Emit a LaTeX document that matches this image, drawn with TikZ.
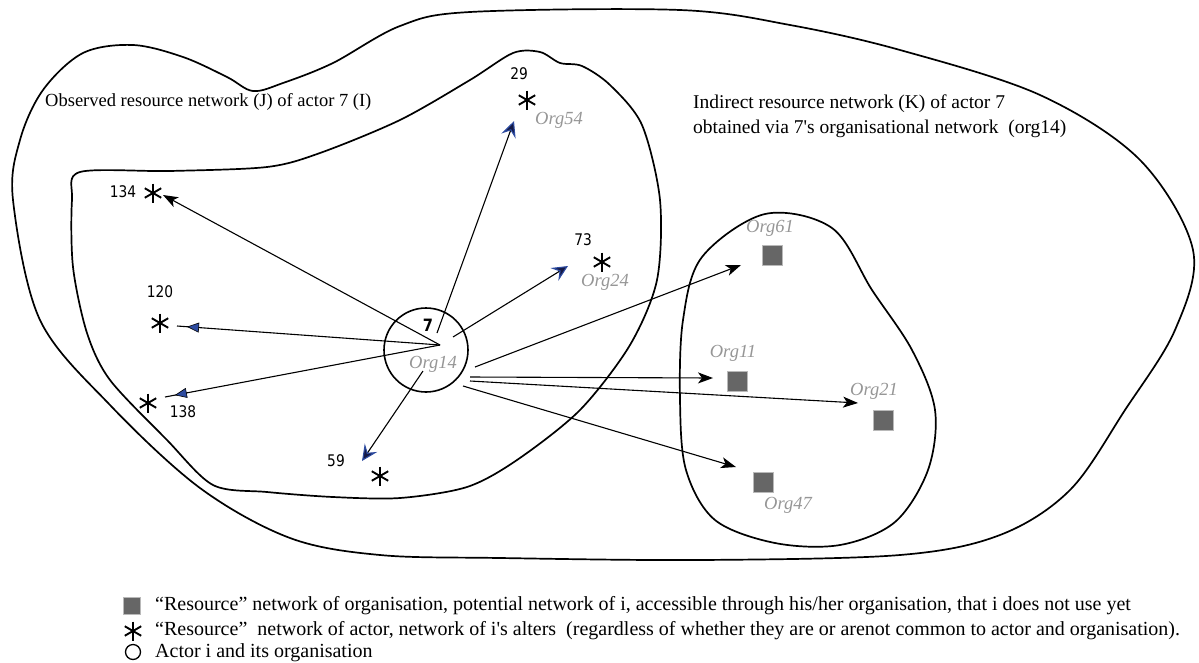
\documentclass[tikz,border=0pt]{standalone}
\usepackage{fontspec}
\setmainfont{Liberation Serif}
\newfontfamily\numfont[FakeStretch=0.86]{DejaVu Sans}
\usetikzlibrary{arrows.meta,decorations.markings}
\definecolor{orgfill}{RGB}{102,102,102}
\definecolor{orgedge}{RGB}{185,185,185}
\definecolor{orgtext}{RGB}{150,150,150}
\definecolor{tipblue}{RGB}{45,75,160}
\definecolor{tipnavy}{RGB}{20,25,70}

\begin{document}
\begin{tikzpicture}[
    x=1pt, y=-1pt,
    blob/.style={line width=1.7pt, line join=round},
    link/.style={line width=1.1pt, -{Stealth[length=15pt, width=11pt, inset=4pt]}},
    linktri/.style={line width=1.1pt, postaction={decorate, decoration={markings,
        mark=at position -10pt with {\arrow{Triangle[length=12pt, width=10pt, fill=tipblue, line width=0.6pt]}}}}},
    linknavy/.style={line width=1.1pt, -{Stealth[length=16pt, width=15pt, inset=6pt, color=tipblue, fill=tipnavy]}},
    alter/.style={circle, minimum size=21pt, inner sep=0pt, path picture={
        \foreach \a in {90,30,150}
            \draw[line width=1.9pt] (path picture bounding box.center) ++(\a:9.5pt) -- ++(\a+180:19pt);}},
    orgbox/.style={rectangle, fill=orgfill, draw=orgedge, line width=0.6pt, minimum size=20pt, inner sep=0pt},
    orglabel/.style={text=orgtext, font=\itshape\fontsize{18.5}{20}\selectfont, inner sep=0pt},
    numlabel/.style={font=\numfont\fontsize{16}{18}\selectfont, inner sep=0pt},
    note/.style={font=\fontsize{18.5}{21}\selectfont, anchor=west, inner sep=0pt},
    keytext/.style={font=\fontsize{20}{22}\selectfont, anchor=west, inner sep=0pt}
]

% Frame
\useasboundingbox (0,0) rectangle (1199,662);

% 1. BLOBS
% Outer network
\draw[blob] plot[smooth cycle, tension=0.55] coordinates {
    (13,200) (20,140) (43,90) (83,53) (133,45) (183,57) (227,77) (253,91)
    (283,83) (333,63) (400,26) (470,12) (680,10) (790,25) (900,50) (1040,95)
    (1140,160) (1193,250) (1175,330) (1125,410) (1070,490) (1000,535) (900,555)
    (700,560) (500,558) (380,555) (290,538) (200,488) (110,405) (40,320)};
% Observed resource network (J)
\draw[blob] plot[smooth cycle, tension=0.5] coordinates {
    (80,172) (170,171) (267,167) (320,153) (400,120) (470,80) (513,53)
    (540,52) (560,63) (582,66) (610,85) (642,125) (660,200) (657,280)
    (630,345) (580,410) (517,460) (467,487) (400,498) (333,497) (267,492)
    (213,485) (167,440) (110,380) (87,333) (73,267) (72,200)};
% Indirect network of org14
\draw[blob] plot[smooth cycle, tension=0.55] coordinates {
    (765,214) (832,228) (872,290) (912,350) (935,410) (928,470) (895,522)
    (840,545) (775,543) (715,520) (686,470) (680,400) (683,320) (702,257)};

% 2. ACTOR AND ORGANISATION
\node[circle, draw, line width=1.6pt, minimum size=84pt, inner sep=0pt] (actor) at (426,350) {};
\node[font=\numfont\bfseries\fontsize{17}{19}\selectfont, inner sep=0pt] (a7) at (428,325) {7};
\node[orglabel] (o14) at (433,364) {Org14};

% Alters of actor 7
\node[alter] (a134) at (153,193) {};
\node[alter] (a120) at (160,323) {};
\node[alter] (a138) at (148,403) {};
\node[alter] (a59) at (380,476) {};
\node[alter] (a29) at (527,100) {};
\node[alter] (a73) at (602,262) {};
\node[numlabel] (n134) at (123,192) {134};
\node[numlabel] (n120) at (160,292) {120};
\node[numlabel] (n138) at (183,412) {138};
\node[numlabel] (n59) at (336,461) {59};
\node[numlabel] (n29) at (519,74) {29};
\node[numlabel] (n73) at (583,240) {73};
\node[orglabel] (o54) at (559,120) {Org54};
\node[orglabel] (o24) at (605,282) {Org24};

% Organisations of org14
\node[orgbox] (g61) at (772,255) {};
\node[orgbox] (g11) at (737,381) {};
\node[orgbox] (g21) at (883,420) {};
\node[orgbox] (g47) at (763,482) {};
\node[orglabel] (o61) at (770,228) {Org61};
\node[orglabel] (o11) at (733,353) {Org11};
\node[orglabel] (o21) at (874,391) {Org21};
\node[orglabel] (o47) at (788,505) {Org47};

% 3. CONNECTORS
\coordinate (hub) at (440,345);
\coordinate (s29) at (437,333);
\coordinate (s73) at (453,337);
\coordinate (s59) at (423,371);
\coordinate (s61) at (475,367);
\coordinate (s11) at (470,377);
\coordinate (s21) at (470,381);
\coordinate (s47) at (463,386);
\coordinate (t134) at (163,195);
\coordinate (e120) at (177,326);
\coordinate (e138) at (165,397);
\coordinate (t59) at (362,461);
\coordinate (t29) at (514,121);
\coordinate (t73) at (568,266);
\coordinate (t61) at (741,265);
\coordinate (t11) at (713,378);
\coordinate (t21) at (858,403);
\coordinate (t47) at (736,467);

\draw[link] (hub) -- (t134);
\draw[linktri] (hub) -- (e120);
\draw[linktri] (hub) -- (e138);
\draw[linknavy] (s29) -- (t29);
\draw[linknavy] (s73) -- (t73);
\draw[linknavy] (s59) -- (t59);
\draw[link] (s61) -- (t61);
\draw[link] (s11) -- (t11);
\draw[link] (s21) -- (t21);
\draw[link] (s47) -- (t47);

% 4. ANNOTATIONS
\node[note] (obs) at (45,102) {Observed resource network (J) of actor 7 (I)};
\node[note, font=\fontsize{19.5}{21}\selectfont] (ind1) at (693,104) {Indirect resource network (K) of actor 7};
\node[note, font=\fontsize{19.5}{21}\selectfont] (ind2) at (693,129) {obtained via 7\textquotesingle s organisational network\ \ (org14)};

% 5. LEGEND
\node[orgbox, minimum size=17pt] (kbox) at (132,606) {};
\node[alter] (kalt) at (133,631) {};
\node[circle, draw, line width=1.3pt, minimum size=15pt, inner sep=0pt] (kcirc) at (133,652) {};
\node[keytext] (kt1) at (155,606) {“Resource” network of organisation, potential network of i, accessible through his/her organisation, that i does not use yet};
\node[keytext] (kt2) at (155,631) {“Resource”\ \ network of actor, network of i\textquotesingle s alters\ \ (regardless of whether they are or arenot common to actor and organisation).};
\node[keytext] (kt3) at (155,653) {Actor i and its organisation};

\end{tikzpicture}
\end{document}
